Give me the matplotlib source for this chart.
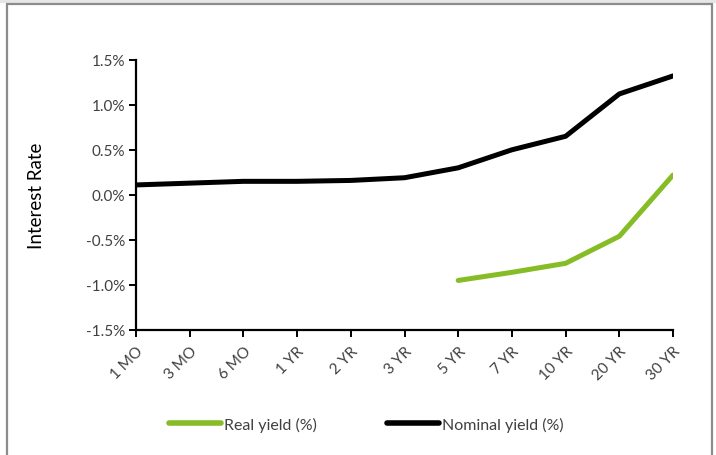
import numpy as np
import matplotlib
matplotlib.use("Agg")
import matplotlib.pyplot as plt
from matplotlib.patches import Rectangle
from matplotlib.lines import Line2D
from matplotlib.ticker import FuncFormatter

plt.rcParams['font.family'] = ['Lato', 'DejaVu Sans']

maturities = ["1 MO", "3 MO", "6 MO", "1 YR", "2 YR", "3 YR", "5 YR", "7 YR", "10 YR", "20 YR", "30 YR"]
nominal_yield = [0.11, 0.13, 0.15, 0.15, 0.16, 0.19, 0.30, 0.50, 0.65, 1.12, 1.32]
real_yield = [np.nan, np.nan, np.nan, np.nan, np.nan, np.nan, -0.95, -0.86, -0.76, -0.46, 0.22]
series_labels = ["Real yield (%)", "Nominal yield (%)"]

W, H = 716, 456
fig = plt.figure(figsize=(W / 100, H / 100), dpi=100)

# outer chart frame
fig.patches.append(Rectangle((0, 1 - 4 / H), 1, 4 / H, transform=fig.transFigure,
                             facecolor="#e6e6e6", edgecolor="none", zorder=-2))
fig.patches.append(Rectangle((7.5 / W, -0.05), (704 / W), 1 - 4.5 / H + 0.05,
                             transform=fig.transFigure, facecolor="white",
                             edgecolor="#8c8c8c", linewidth=1.6, zorder=-1))

ax = fig.add_axes([136 / W, 1 - 331 / H, (673 - 136) / W, (331 - 60.7) / H])
ax.set_facecolor("none")
ax.set_zorder(2)

x = np.arange(len(maturities))
green = "#86bc25"
ax.plot(x, real_yield, color=green, lw=3.6, solid_capstyle="round", solid_joinstyle="round", zorder=3)
ax.plot(x, nominal_yield, color="black", lw=3.6, solid_capstyle="round", solid_joinstyle="round", zorder=3)

ax.set_xlim(0, len(maturities) - 1)
ax.set_ylim(-1.5, 1.5)
ax.set_yticks(np.arange(-1.5, 1.51, 0.5))
ax.yaxis.set_major_formatter(FuncFormatter(lambda v, p: f"{v:.1f}%"))
ax.set_xticks(x)
ax.set_xticklabels(maturities, rotation=45, ha="right", va="top", rotation_mode="anchor")

for s in ["top", "right"]:
    ax.spines[s].set_visible(False)
for s in ["left", "bottom"]:
    ax.spines[s].set_linewidth(1.6)
    ax.spines[s].set_color("black")

ax.tick_params(axis="both", direction="out", length=5, width=1.4, color="black",
               labelsize=11, labelcolor="#404040")
ax.tick_params(axis="x", pad=5)
ax.tick_params(axis="y", pad=3)
ax.set_ylabel("Interest Rate", fontsize=13.5, color="black", labelpad=29)

handles = [Line2D([0], [0], color=green, lw=4, solid_capstyle="round"),
           Line2D([0], [0], color="black", lw=4, solid_capstyle="round")]
leg = fig.legend(handles, series_labels, loc="center", bbox_to_anchor=(366 / W, 1 - 425 / H),
                 ncol=2, frameon=False, fontsize=11.5, handlelength=3.3, handletextpad=0.15,
                 columnspacing=4.4)
for t in leg.get_texts():
    t.set_color("#404040")

fig.savefig("out.png", dpi=100)
